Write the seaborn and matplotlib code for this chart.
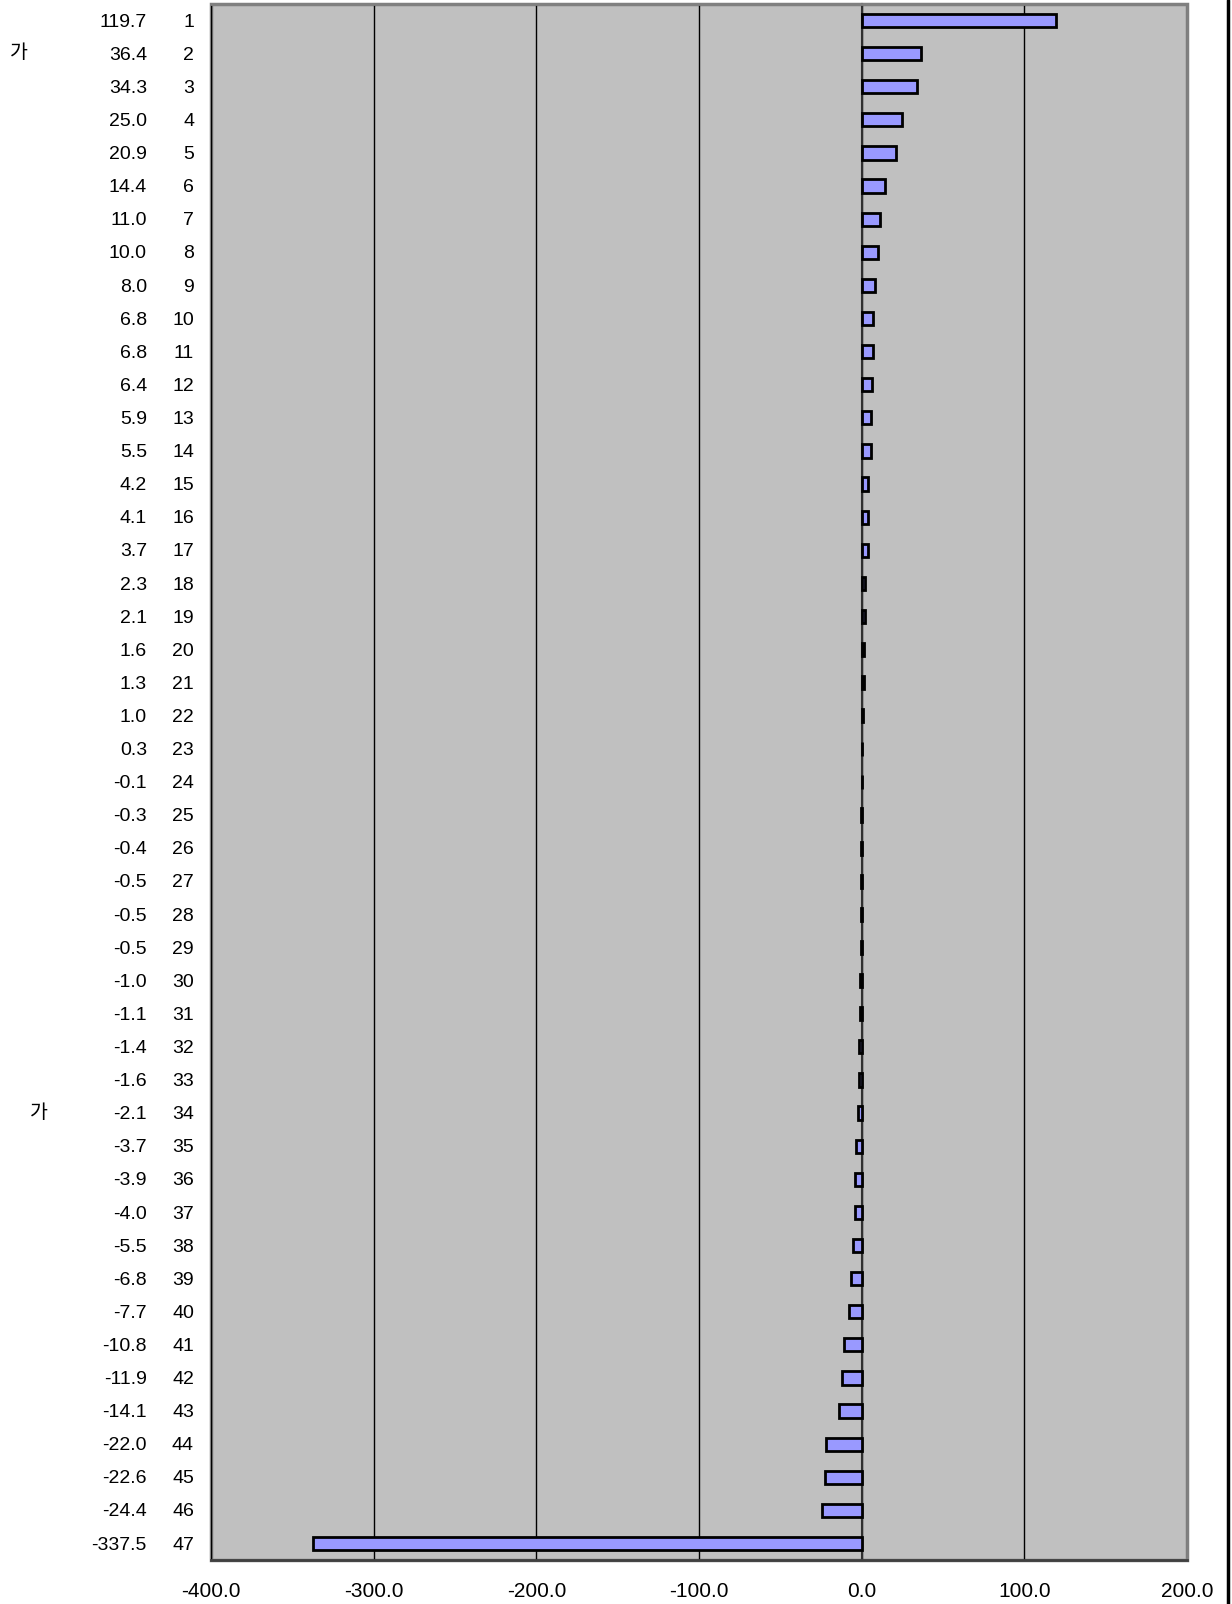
"""Horizontal ranked bar chart, Excel style."""

import matplotlib

matplotlib.use("Agg")

import matplotlib.pyplot as plt
import matplotlib.transforms as mtransforms
import numpy as np
import pandas as pd
import seaborn as sns
from matplotlib.lines import Line2D
from matplotlib.ticker import FormatStrFormatter

values = [
    119.7, 36.4, 34.3, 25.0, 20.9, 14.4, 11.0, 10.0, 8.0, 6.8,
    6.8, 6.4, 5.9, 5.5, 4.2, 4.1, 3.7, 2.3, 2.1, 1.6,
    1.3, 1.0, 0.3, -0.1, -0.3, -0.4, -0.5, -0.5, -0.5, -1.0,
    -1.1, -1.4, -1.6, -2.1, -3.7, -3.9, -4.0, -5.5, -6.8, -7.7,
    -10.8, -11.9, -14.1, -22.0, -22.6, -24.4, -337.5,
]
ranks = [str(i) for i in range(1, 48)]
names = [""] * 47
names[1] = "가"
names[33] = "가"
x_ticks = [-400, -300, -200, -100, 0, 100, 200]

sns.set_style("white")
plt.rcParams["font.family"] = ["Liberation Sans", "Noto Sans CJK KR", "DejaVu Sans"]
plt.rcParams["axes.unicode_minus"] = False
plt.rcParams["text.color"] = "black"
plt.rcParams["xtick.color"] = "black"

df = pd.DataFrame({"rank": ranks, "value": values, "name": names})

W, H = 1232, 1604
fig = plt.figure(figsize=(W / 100, H / 100), dpi=100)
ax = fig.add_axes([211 / W, 1 - 1560 / H, (1187 - 211) / W, (1560 - 4) / H])
ax.set_facecolor("#C0C0C0")

sns.barplot(
    data=df, x="value", y="rank", orient="h", order=ranks,
    color="#9999FF", saturation=1, edgecolor="black", linewidth=2,
    width=0.4, ax=ax, zorder=3,
)

ax.set_xlim(x_ticks[0], x_ticks[-1])
ax.set_ylim(len(ranks) - 0.5, -0.5)
ax.set_xticks(x_ticks)
ax.xaxis.set_major_formatter(FormatStrFormatter("%.1f"))
ax.grid(axis="x", color="black", linewidth=1)
ax.grid(axis="y", visible=False)
ax.set_axisbelow(True)
ax.set_xlabel("")
ax.set_ylabel("")
ax.tick_params(axis="x", length=0, pad=16, labelsize=15, colors="black")

# category axis crosses at zero, ticks between categories
ax.spines["left"].set_position(("data", 0))
ax.spines["left"].set_color("#303030")
ax.spines["left"].set_linewidth(1.5)
ax.set_yticks([])
ax.set_yticks(np.arange(-0.5, len(ranks), 1), minor=True)
ax.tick_params(axis="y", which="minor", direction="in", length=7, width=1.2,
               color="#303030", labelleft=False)

# plot area frame
for side in ["top", "right"]:
    ax.spines[side].set_color("#808080")
    ax.spines[side].set_linewidth(2)
ax.spines["bottom"].set_color("#404040")
ax.spines["bottom"].set_linewidth(2)
ax.patch.set_edgecolor("#808080")
ax.patch.set_linewidth(2.5)

# row labels on the left
trans = mtransforms.blended_transform_factory(fig.transFigure, ax.transData)
name_x = {1: 10 / W, 33: 30 / W}
for i, row in df.iterrows():
    ax.text(147 / W, i + 0.05, f"{row['value']:.1f}", transform=trans,
            ha="right", va="center", fontsize=14)
    ax.text(194 / W, i + 0.05, row["rank"], transform=trans,
            ha="right", va="center", fontsize=14)
    if row["name"]:
        ax.text(name_x.get(i, 10 / W), i, row["name"], transform=trans,
                ha="left", va="center", fontsize=14)

fig.add_artist(Line2D([1228 / W, 1228 / W], [0, 1], color="black", linewidth=2.5))

fig.savefig("out.png", dpi=100)
